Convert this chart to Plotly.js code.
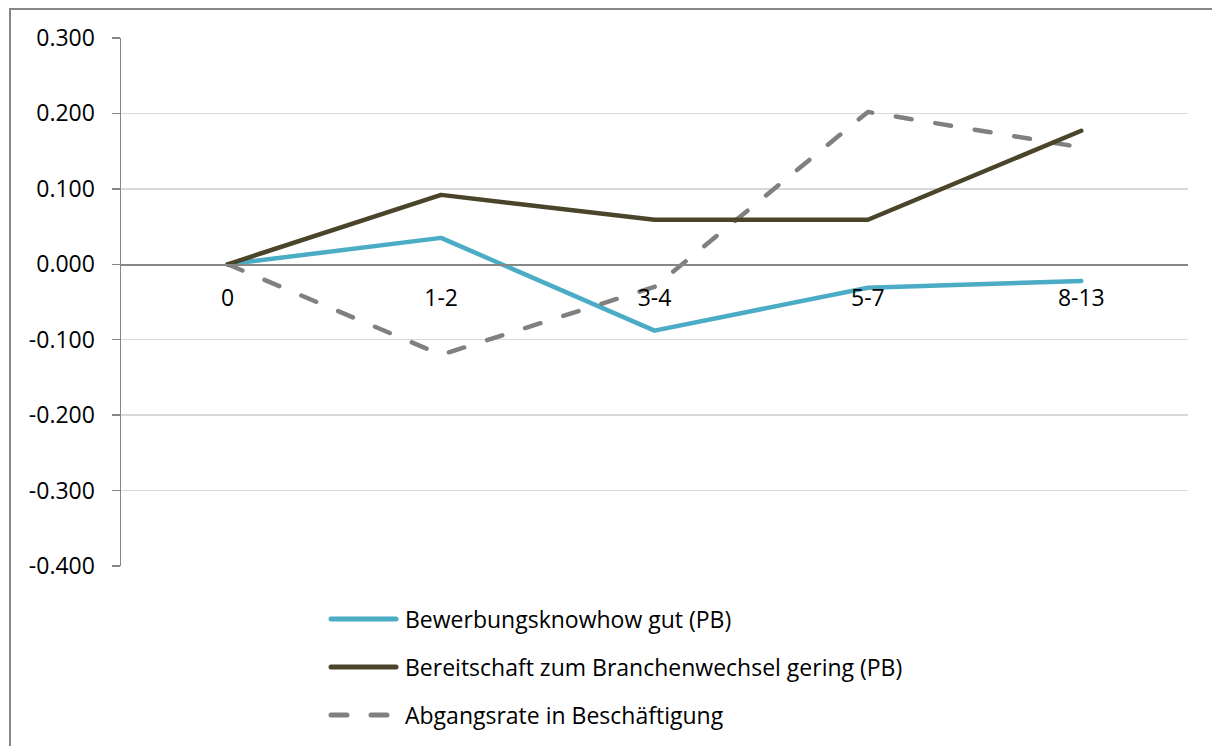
<!DOCTYPE html>
<html><head><meta charset="utf-8">
<script src="https://cdn.plot.ly/plotly-3.0.1.min.js"></script>
<style>
body{margin:0;background:#fff;overflow:hidden}
#chart{width:1212px;height:746px;position:absolute;left:0;top:0}
#frame{position:absolute;left:9px;top:8px;width:1300px;height:900px;border-left:2px solid #878787;border-top:2px solid #878787;pointer-events:none}
#chart path.js-line, #chart .shapelayer path{stroke-linecap:round !important;stroke-linejoin:round !important}
</style>
</head><body>
<div id="chart"></div><div id="frame"></div>
<script>
// ---- data ----
const categories = ['0', '1-2', '3-4', '5-7', '8-13'];
const seriesNames = [
  'Bewerbungsknowhow gut (PB)',
  'Bereitschaft zum Branchenwechsel gering (PB)',
  'Abgangsrate in Beschäftigung'
];
const bewerbungsknowhow = [0, 0.035, -0.088, -0.031, -0.022];
const branchenwechsel   = [0, 0.092, 0.059, 0.059, 0.177];
const abgangsrate       = [0, -0.120, -0.030, 0.202, 0.155];
const yTickVals   = [-0.4, -0.3, -0.2, -0.1, 0, 0.1, 0.2, 0.3];
const yTickLabels = ['-0.400', '-0.300', '-0.200', '-0.100', '0.000', '0.100', '0.200', '0.300'];

// ---- style ----
const colors = ['#4BACC6', '#4A452A', '#808080'];
const dashes = ['solid', 'solid', '16px,24px'];
const drawOrder = [0, 2, 1];
const FONT = 'Open Sans, sans-serif';
const FS = 23;
const W = 1212, H = 746;
const M = {l: 121, r: 24, t: 38, b: 180};
const pw = W - M.l - M.r, ph = H - M.t - M.b;
const px = x => (x - M.l) / pw;
const py = y => (H - M.b - y) / ph;
const yMin = -0.4, yMax = 0.3;

const seriesData = [bewerbungsknowhow, branchenwechsel, abgangsrate];
const traces = drawOrder.map(i => ({
  type: 'scatter', mode: 'lines', x: categories, y: seriesData[i], name: seriesNames[i],
  line: {color: colors[i], width: 4.5, dash: dashes[i]},
  hoverinfo: 'skip'
}));

// custom legend
const legendY = [619, 667, 715];
const shapes = [], annotations = [];
seriesNames.forEach((n, i) => {
  shapes.push({type: 'line', xref: 'paper', yref: 'paper',
    x0: px(331), x1: px(396), y0: py(legendY[i]), y1: py(legendY[i]),
    line: {color: colors[i], width: 5, dash: i === 2 ? '16px,24px' : 'solid'}});
  annotations.push({xref: 'paper', yref: 'paper', x: px(403), y: py(legendY[i]),
    xanchor: 'left', yanchor: 'middle', showarrow: false, text: n,
    font: {family: FONT, size: FS, color: '#000'}});
});

const layout = {
  width: W, height: H, margin: M,
  paper_bgcolor: '#fff', plot_bgcolor: '#fff',
  showlegend: false,
  xaxis: {
    type: 'category', range: [-0.5, 4.5], showgrid: false,
    showline: true, linecolor: '#868686', linewidth: 1.5, ticks: '',
    anchor: 'free', position: (0 - yMin) / (yMax - yMin),
    ticklabelstandoff: 13,
    tickfont: {family: FONT, size: FS, color: '#000'}, fixedrange: true
  },
  yaxis: {
    range: [yMin, yMax], tickvals: yTickVals, ticktext: yTickLabels,
    showgrid: true, gridcolor: '#D9D9D9', gridwidth: 1.5, zeroline: false,
    showline: true, linecolor: '#868686', linewidth: 1.5,
    ticks: 'outside', ticklen: 8, tickcolor: '#868686', tickwidth: 1.5,
    ticklabelstandoff: 12,
    tickfont: {family: FONT, size: FS, color: '#000'}, fixedrange: true
  },
  shapes: shapes, annotations: annotations
};
Plotly.newPlot('chart', traces, layout, {displayModeBar: false, staticPlot: true});
</script>
</body></html>
